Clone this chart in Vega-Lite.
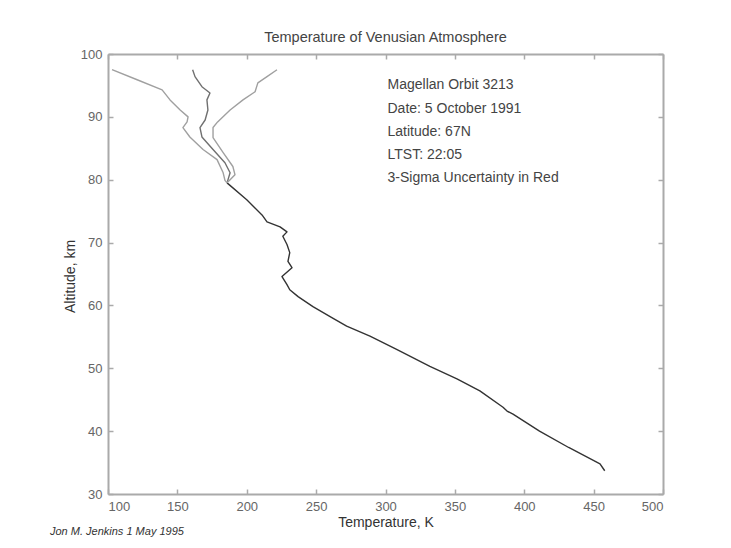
{
  "$schema": "https://vega.github.io/schema/vega-lite/v6.json",
  "width": 555,
  "height": 440,
  "autosize": {"type": "none"},
  "padding": {"left": 108, "top": 54, "right": 68, "bottom": 54},
  "background": "white",
  "config": {
    "view": {"stroke": null},
    "font": "Liberation Sans",
    "axis": {
      "grid": false,
      "domainColor": "#aaaaaa",
      "domainWidth": 2,
      "tickColor": "#aaaaaa",
      "tickWidth": 1.5,
      "tickSize": -5,
      "labelPadding": 11,
      "labelColor": "#666666",
      "labelFont": "Liberation Sans",
      "labelFontSize": 13,
      "titleFont": "Liberation Sans",
      "titleFontSize": 14,
      "titleFontWeight": "normal",
      "titleColor": "#333333"
    }
  },
  "title": {
    "text": "Temperature of Venusian Atmosphere",
    "font": "Liberation Sans",
    "fontSize": 14.5,
    "fontWeight": "normal",
    "color": "#444444",
    "offset": 3
  },
  "datasets": {
    "profiles": [
      {"series": "profile", "T": 458.0, "alt": 33.7},
      {"series": "profile", "T": 454.6, "alt": 34.8},
      {"series": "profile", "T": 432.0, "alt": 37.4},
      {"series": "profile", "T": 411.0, "alt": 40.0},
      {"series": "profile", "T": 391.9, "alt": 42.7},
      {"series": "profile", "T": 387.6, "alt": 43.2},
      {"series": "profile", "T": 384.7, "alt": 43.8},
      {"series": "profile", "T": 368.0, "alt": 46.4},
      {"series": "profile", "T": 351.5, "alt": 48.3},
      {"series": "profile", "T": 332.0, "alt": 50.3},
      {"series": "profile", "T": 308.0, "alt": 53.0},
      {"series": "profile", "T": 288.8, "alt": 55.1},
      {"series": "profile", "T": 272.0, "alt": 56.7},
      {"series": "profile", "T": 261.0, "alt": 58.1},
      {"series": "profile", "T": 247.7, "alt": 59.8},
      {"series": "profile", "T": 237.0, "alt": 61.4},
      {"series": "profile", "T": 231.0, "alt": 62.5},
      {"series": "profile", "T": 229.0, "alt": 63.3},
      {"series": "profile", "T": 225.4, "alt": 64.6},
      {"series": "profile", "T": 232.6, "alt": 66.0},
      {"series": "profile", "T": 229.7, "alt": 67.0},
      {"series": "profile", "T": 231.0, "alt": 68.4},
      {"series": "profile", "T": 229.0, "alt": 69.7},
      {"series": "profile", "T": 226.0, "alt": 71.0},
      {"series": "profile", "T": 229.0, "alt": 71.7},
      {"series": "profile", "T": 224.0, "alt": 72.5},
      {"series": "profile", "T": 214.6, "alt": 73.3},
      {"series": "profile", "T": 211.0, "alt": 74.4},
      {"series": "profile", "T": 200.0, "alt": 76.8},
      {"series": "profile", "T": 185.8, "alt": 79.5},
      {"series": "mean", "T": 185.8, "alt": 79.5},
      {"series": "mean", "T": 188.0, "alt": 81.1},
      {"series": "mean", "T": 184.3, "alt": 82.7},
      {"series": "mean", "T": 175.7, "alt": 84.8},
      {"series": "mean", "T": 167.7, "alt": 86.8},
      {"series": "mean", "T": 166.3, "alt": 88.3},
      {"series": "mean", "T": 170.0, "alt": 89.5},
      {"series": "mean", "T": 172.0, "alt": 91.1},
      {"series": "mean", "T": 171.3, "alt": 92.7},
      {"series": "mean", "T": 173.5, "alt": 93.8},
      {"series": "mean", "T": 167.7, "alt": 94.8},
      {"series": "mean", "T": 162.7, "alt": 96.4},
      {"series": "mean", "T": 161.0, "alt": 97.5},
      {"series": "low", "T": 185.8, "alt": 79.5},
      {"series": "low", "T": 184.3, "alt": 79.9},
      {"series": "low", "T": 183.0, "alt": 81.1},
      {"series": "low", "T": 178.6, "alt": 83.2},
      {"series": "low", "T": 168.5, "alt": 84.8},
      {"series": "low", "T": 159.0, "alt": 86.8},
      {"series": "low", "T": 154.0, "alt": 88.3},
      {"series": "low", "T": 157.0, "alt": 89.2},
      {"series": "low", "T": 157.7, "alt": 90.0},
      {"series": "low", "T": 152.0, "alt": 91.1},
      {"series": "low", "T": 144.7, "alt": 92.7},
      {"series": "low", "T": 139.0, "alt": 94.3},
      {"series": "low", "T": 121.0, "alt": 95.9},
      {"series": "low", "T": 102.9, "alt": 97.5},
      {"series": "high", "T": 185.8, "alt": 79.5},
      {"series": "high", "T": 188.0, "alt": 80.0},
      {"series": "high", "T": 191.5, "alt": 80.8},
      {"series": "high", "T": 190.0, "alt": 82.1},
      {"series": "high", "T": 183.0, "alt": 84.3},
      {"series": "high", "T": 175.7, "alt": 86.7},
      {"series": "high", "T": 175.7, "alt": 88.3},
      {"series": "high", "T": 179.0, "alt": 89.2},
      {"series": "high", "T": 188.0, "alt": 91.1},
      {"series": "high", "T": 197.3, "alt": 92.7},
      {"series": "high", "T": 206.0, "alt": 94.0},
      {"series": "high", "T": 208.0, "alt": 95.4},
      {"series": "high", "T": 214.6, "alt": 96.4},
      {"series": "high", "T": 221.8, "alt": 97.5}
    ],
    "notes": [
      {"T": 300, "alt": 95.0, "label": "Magellan Orbit 3213"},
      {"T": 300, "alt": 91.3, "label": "Date: 5 October 1991"},
      {"T": 300, "alt": 87.6, "label": "Latitude: 67N"},
      {"T": 300, "alt": 83.9, "label": "LTST: 22:05"},
      {"T": 300, "alt": 80.2, "label": "3-Sigma Uncertainty in Red"}
    ],
    "credit": [
      {"T": 58.2, "alt": 24.0, "label": "Jon M. Jenkins  1 May 1995"}
    ]
  },
  "layer": [
    {
      "data": {"name": "profiles"},
      "mark": {"type": "line", "strokeWidth": 1.4, "strokeJoin": "round"},
      "encoding": {
        "x": {
          "field": "T", "type": "quantitative",
          "scale": {"domain": [100, 500], "nice": false, "zero": false},
          "axis": {
            "orient": "bottom",
            "values": [100, 150, 200, 250, 300, 350, 400, 450, 500],
            "title": "Temperature, K",
            "titleX": 277.5, "titleY": 28, "titleBaseline": "middle", "titleAlign": "center"
          }
        },
        "y": {
          "field": "alt", "type": "quantitative",
          "scale": {"domain": [30, 100], "nice": false, "zero": false},
          "axis": {
            "orient": "left",
            "values": [30, 40, 50, 60, 70, 80, 90, 100],
            "title": "Altitude, km",
            "titleX": -38, "titleY": 222, "titleBaseline": "middle", "titleAlign": "center", "titleAngle": -90
          }
        },
        "order": {"field": "alt", "type": "quantitative"},
        "color": {
          "field": "series", "type": "nominal",
          "scale": {"domain": ["profile", "mean", "low", "high"], "range": ["#333333", "#707070", "#a0a0a0", "#a0a0a0"]},
          "legend": null
        },
        "detail": {"field": "series"}
      }
    },
    {
      "data": {"name": "notes"},
      "mark": {"type": "text", "align": "left", "baseline": "middle", "dx": 2, "fontSize": 14, "color": "#444444", "font": "Liberation Sans"},
      "encoding": {
        "x": {
          "field": "T", "type": "quantitative",
          "axis": {"orient": "top", "labels": false, "title": null, "values": [100, 150, 200, 250, 300, 350, 400, 450, 500]}
        },
        "y": {
          "field": "alt", "type": "quantitative",
          "axis": {"orient": "right", "labels": false, "title": null, "values": [30, 40, 50, 60, 70, 80, 90, 100]}
        },
        "text": {"field": "label"}
      }
    },
    {
      "data": {"name": "credit"},
      "mark": {"type": "text", "align": "left", "baseline": "middle", "fontSize": 11, "fontStyle": "italic", "color": "#333333", "font": "Liberation Sans"},
      "encoding": {
        "x": {"field": "T", "type": "quantitative", "axis": null},
        "y": {"field": "alt", "type": "quantitative", "axis": null},
        "text": {"field": "label"}
      }
    }
  ],
  "resolve": {"axis": {"x": "independent", "y": "independent"}}
}
